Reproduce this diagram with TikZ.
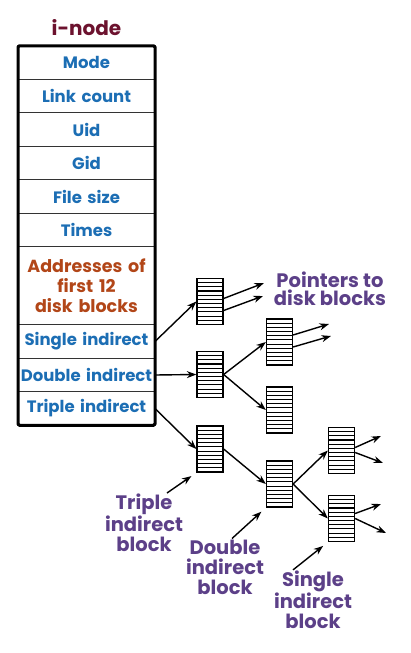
\documentclass[tikz,border=0pt]{standalone}
\usepackage{fontspec}
\setmainfont{Poppins}
\usetikzlibrary{positioning,arrows.meta}
\definecolor{fieldblue}{RGB}{28,110,180}
\definecolor{addrorange}{RGB}{178,70,24}
\definecolor{notepurple}{RGB}{92,64,136}
\definecolor{titlered}{RGB}{108,18,46}
\begin{document}
\begin{tikzpicture}[x=1pt,y=-1pt,
field/.style={
draw=black!80,
line width=1.3pt,
text width=137pt, align=center,
minimum height=33.5pt,
inner sep=0pt, outer sep=0pt,
font=\bfseries\fontsize{16.5}{20}\selectfont,
text=fieldblue
},
blk/.style={
draw, line width=1.3pt,
minimum width=26pt, minimum height=46pt, inner sep=0pt,
path picture={
\foreach \k in {1,...,10}
\draw[line width=1.1pt] ([yshift=-\k*4.18pt]path picture bounding box.north west) -- ([yshift=-\k*4.18pt]path picture bounding box.north east);
}
},
ptr/.style={-{Stealth[length=9.5pt,width=7pt]}, line width=1.4pt},
note/.style={align=center, text=notepurple, inner sep=1pt, font=\bfseries\fontsize{19.5}{20}\selectfont}
]
\useasboundingbox (0,0) rectangle (410,653);

% i-node table
\node[field] (mode) at (86.5,62.5) {Mode};
\node[field, below=0pt of mode] (links) {Link count};
\node[field, below=0pt of links] (uid) {Uid};
\node[field, below=0pt of uid] (gid) {Gid};
\node[field, below=0pt of gid] (size) {File size};
\node[field, below=0pt of size] (times) {Times};
\node[field, below=0pt of times, minimum height=78pt, text=addrorange, font=\bfseries\fontsize{17.5}{20}\selectfont] (addr) {Addresses of\\first 12\\disk blocks};
\node[field, below=0pt of addr] (single) {Single indirect};
\node[field, below=0pt of single] (double) {Double indirect};
\node[field, below=0pt of double] (triple) {Triple indirect};
\draw[line width=3pt, rounded corners=1.5pt] (mode.north west) rectangle (triple.south east);
\node[above=7pt of mode, text=titlered, font=\bfseries\fontsize{20}{22}\selectfont] (title) {i-node};

% blocks
\node[blk] (b1) at (210,301.5) {};
\node[blk] (b2) at (210,374.5) {};
\node[blk] (b3) at (279.5,342) {};
\node[blk] (b4) at (279.5,410) {};
\node[blk] (t1) at (210,449) {};
\node[blk] (t2) at (279.5,484) {};
\node[blk] (t3) at (341.5,450.5) {};
\node[blk] (t4) at (341.5,518.5) {};

% free ends
\coordinate (p1) at (264,283);
\coordinate (p2) at (263,296);
\coordinate (p3) at (329,324);
\coordinate (p4) at (331,336);
\coordinate (p5) at (381,436);
\coordinate (p6) at (383,463);
\coordinate (p7) at (381,504);
\coordinate (p8) at (386,533);

\draw[ptr] (single.east) -- (b1.west);
\draw[ptr] (double.east) -- (b2.west);
\draw[ptr] (triple.east) -- (t1.west);
\draw[ptr] ([yshift=3pt]b1.east) -- (p1);
\draw[ptr] ([yshift=-9pt]b1.east) -- (p2);
\draw[ptr] (b2.east) -- (b3.west);
\draw[ptr] (b2.east) -- (b4.west);
\draw[ptr] ([yshift=7pt]b3.east) -- (p3);
\draw[ptr] ([yshift=-5pt]b3.east) -- (p4);
\draw[ptr] (t1.east) -- (t2.west);
\draw[ptr] (t2.east) -- (t3.west);
\draw[ptr] (t2.east) -- (t4.west);
\draw[ptr] ([yshift=3pt]t3.east) -- (p5);
\draw[ptr] ([yshift=-2pt]t3.east) -- (p6);
\draw[ptr] ([yshift=5pt]t4.east) -- (p7);
\draw[ptr] (t4.east) -- (p8);

% labels
\node[note, font=\bfseries\fontsize{19.5}{18}\selectfont] (ptrlab) at (330,289) {Pointers to\\disk blocks};
\node[note] (tlab) at (144,523) {Triple\\indirect\\block};
\node[note] (dlab) at (225,567) {Double\\indirect\\block};
\node[note] (slab) at (313,600) {Single\\indirect\\block};
\draw[ptr, shorten >=6pt] ([xshift=23pt]tlab.north) -- (t1.south west);
\draw[ptr, shorten >=6pt] ([xshift=7pt]dlab.north) -- (t2.south west);
\draw[ptr, shorten >=6pt] ([xshift=-20pt]slab.north) -- (t4.south west);

\end{tikzpicture}
\end{document}
